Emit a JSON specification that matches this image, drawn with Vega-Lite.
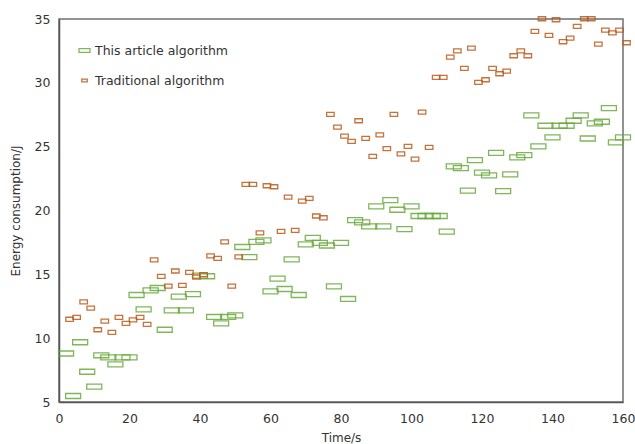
{
  "$schema": "https://vega.github.io/schema/vega-lite/v6.json",
  "width": 564,
  "height": 383,
  "autosize": "none",
  "padding": {"left": 59, "top": 19, "right": 12, "bottom": 42},
  "background": "white",
  "config": {
    "view": {"stroke": "#6f6f6f", "strokeWidth": 1.5},
    "font": "DejaVu Sans",
    "axis": {
      "grid": false,
      "ticks": false,
      "domainColor": "#555555",
      "domainWidth": 1.5,
      "labelFont": "DejaVu Sans",
      "labelFontSize": 12.5,
      "labelColor": "#333333",
      "titleFont": "DejaVu Sans",
      "titleFontSize": 12,
      "titleFontWeight": "normal",
      "titleColor": "#333333"
    }
  },
  "datasets": {
    "pts": [
      {"t": 2, "e": 8.8, "series": "This article algorithm"},
      {"t": 4, "e": 5.47, "series": "This article algorithm"},
      {"t": 6, "e": 9.68, "series": "This article algorithm"},
      {"t": 8, "e": 7.37, "series": "This article algorithm"},
      {"t": 10, "e": 6.2, "series": "This article algorithm"},
      {"t": 12, "e": 8.66, "series": "This article algorithm"},
      {"t": 14, "e": 8.5, "series": "This article algorithm"},
      {"t": 16, "e": 7.95, "series": "This article algorithm"},
      {"t": 18, "e": 8.5, "series": "This article algorithm"},
      {"t": 20, "e": 8.5, "series": "This article algorithm"},
      {"t": 22, "e": 13.38, "series": "This article algorithm"},
      {"t": 24, "e": 12.26, "series": "This article algorithm"},
      {"t": 26, "e": 13.75, "series": "This article algorithm"},
      {"t": 28, "e": 13.93, "series": "This article algorithm"},
      {"t": 30, "e": 10.66, "series": "This article algorithm"},
      {"t": 32, "e": 12.18, "series": "This article algorithm"},
      {"t": 34, "e": 13.25, "series": "This article algorithm"},
      {"t": 36, "e": 12.18, "series": "This article algorithm"},
      {"t": 38, "e": 13.45, "series": "This article algorithm"},
      {"t": 40, "e": 14.9, "series": "This article algorithm"},
      {"t": 42, "e": 14.85, "series": "This article algorithm"},
      {"t": 44, "e": 11.66, "series": "This article algorithm"},
      {"t": 46, "e": 11.16, "series": "This article algorithm"},
      {"t": 48, "e": 11.66, "series": "This article algorithm"},
      {"t": 50, "e": 11.79, "series": "This article algorithm"},
      {"t": 52, "e": 17.14, "series": "This article algorithm"},
      {"t": 54, "e": 16.35, "series": "This article algorithm"},
      {"t": 56, "e": 17.55, "series": "This article algorithm"},
      {"t": 58, "e": 17.66, "series": "This article algorithm"},
      {"t": 60, "e": 13.67, "series": "This article algorithm"},
      {"t": 62, "e": 14.66, "series": "This article algorithm"},
      {"t": 64, "e": 13.85, "series": "This article algorithm"},
      {"t": 66, "e": 16.17, "series": "This article algorithm"},
      {"t": 68, "e": 13.38, "series": "This article algorithm"},
      {"t": 70, "e": 17.35, "series": "This article algorithm"},
      {"t": 72, "e": 17.85, "series": "This article algorithm"},
      {"t": 74, "e": 17.46, "series": "This article algorithm"},
      {"t": 76, "e": 17.26, "series": "This article algorithm"},
      {"t": 78, "e": 14.06, "series": "This article algorithm"},
      {"t": 80, "e": 17.46, "series": "This article algorithm"},
      {"t": 82, "e": 13.07, "series": "This article algorithm"},
      {"t": 84, "e": 19.25, "series": "This article algorithm"},
      {"t": 86, "e": 19.07, "series": "This article algorithm"},
      {"t": 88, "e": 18.76, "series": "This article algorithm"},
      {"t": 90, "e": 20.32, "series": "This article algorithm"},
      {"t": 92, "e": 18.76, "series": "This article algorithm"},
      {"t": 94, "e": 20.82, "series": "This article algorithm"},
      {"t": 96, "e": 20.06, "series": "This article algorithm"},
      {"t": 98, "e": 18.54, "series": "This article algorithm"},
      {"t": 100, "e": 20.32, "series": "This article algorithm"},
      {"t": 102, "e": 19.57, "series": "This article algorithm"},
      {"t": 104, "e": 19.57, "series": "This article algorithm"},
      {"t": 106, "e": 19.57, "series": "This article algorithm"},
      {"t": 108, "e": 19.57, "series": "This article algorithm"},
      {"t": 110, "e": 18.34, "series": "This article algorithm"},
      {"t": 112, "e": 23.45, "series": "This article algorithm"},
      {"t": 114, "e": 23.32, "series": "This article algorithm"},
      {"t": 116, "e": 21.55, "series": "This article algorithm"},
      {"t": 118, "e": 23.95, "series": "This article algorithm"},
      {"t": 120, "e": 22.96, "series": "This article algorithm"},
      {"t": 122, "e": 22.75, "series": "This article algorithm"},
      {"t": 124, "e": 24.52, "series": "This article algorithm"},
      {"t": 126, "e": 21.52, "series": "This article algorithm"},
      {"t": 128, "e": 22.83, "series": "This article algorithm"},
      {"t": 130, "e": 24.16, "series": "This article algorithm"},
      {"t": 132, "e": 24.34, "series": "This article algorithm"},
      {"t": 134, "e": 27.45, "series": "This article algorithm"},
      {"t": 136, "e": 25.02, "series": "This article algorithm"},
      {"t": 138, "e": 26.64, "series": "This article algorithm"},
      {"t": 140, "e": 25.73, "series": "This article algorithm"},
      {"t": 142, "e": 26.64, "series": "This article algorithm"},
      {"t": 144, "e": 26.64, "series": "This article algorithm"},
      {"t": 146, "e": 27.03, "series": "This article algorithm"},
      {"t": 148, "e": 27.45, "series": "This article algorithm"},
      {"t": 150, "e": 25.64, "series": "This article algorithm"},
      {"t": 152, "e": 26.82, "series": "This article algorithm"},
      {"t": 154, "e": 26.95, "series": "This article algorithm"},
      {"t": 156, "e": 28.02, "series": "This article algorithm"},
      {"t": 158, "e": 25.34, "series": "This article algorithm"},
      {"t": 160, "e": 25.73, "series": "This article algorithm"},
      {"t": 3, "e": 11.48, "series": "Traditional algorithm"},
      {"t": 5, "e": 11.63, "series": "Traditional algorithm"},
      {"t": 7, "e": 12.85, "series": "Traditional algorithm"},
      {"t": 9, "e": 12.36, "series": "Traditional algorithm"},
      {"t": 11, "e": 10.66, "series": "Traditional algorithm"},
      {"t": 13, "e": 11.34, "series": "Traditional algorithm"},
      {"t": 15, "e": 10.46, "series": "Traditional algorithm"},
      {"t": 17, "e": 11.63, "series": "Traditional algorithm"},
      {"t": 19, "e": 11.16, "series": "Traditional algorithm"},
      {"t": 21, "e": 11.44, "series": "Traditional algorithm"},
      {"t": 23, "e": 11.63, "series": "Traditional algorithm"},
      {"t": 25, "e": 11.08, "series": "Traditional algorithm"},
      {"t": 27, "e": 16.14, "series": "Traditional algorithm"},
      {"t": 29, "e": 14.84, "series": "Traditional algorithm"},
      {"t": 31, "e": 14.08, "series": "Traditional algorithm"},
      {"t": 33, "e": 15.26, "series": "Traditional algorithm"},
      {"t": 35, "e": 14.14, "series": "Traditional algorithm"},
      {"t": 37, "e": 15.16, "series": "Traditional algorithm"},
      {"t": 39, "e": 14.79, "series": "Traditional algorithm"},
      {"t": 41, "e": 14.98, "series": "Traditional algorithm"},
      {"t": 43, "e": 16.45, "series": "Traditional algorithm"},
      {"t": 45, "e": 16.25, "series": "Traditional algorithm"},
      {"t": 47, "e": 17.55, "series": "Traditional algorithm"},
      {"t": 49, "e": 14.07, "series": "Traditional algorithm"},
      {"t": 51, "e": 16.36, "series": "Traditional algorithm"},
      {"t": 53, "e": 22.05, "series": "Traditional algorithm"},
      {"t": 55, "e": 22.05, "series": "Traditional algorithm"},
      {"t": 57, "e": 18.24, "series": "Traditional algorithm"},
      {"t": 59, "e": 21.94, "series": "Traditional algorithm"},
      {"t": 61, "e": 21.86, "series": "Traditional algorithm"},
      {"t": 63, "e": 18.36, "series": "Traditional algorithm"},
      {"t": 65, "e": 21.05, "series": "Traditional algorithm"},
      {"t": 67, "e": 18.45, "series": "Traditional algorithm"},
      {"t": 69, "e": 20.74, "series": "Traditional algorithm"},
      {"t": 71, "e": 20.95, "series": "Traditional algorithm"},
      {"t": 73, "e": 19.57, "series": "Traditional algorithm"},
      {"t": 75, "e": 19.43, "series": "Traditional algorithm"},
      {"t": 77, "e": 27.53, "series": "Traditional algorithm"},
      {"t": 79, "e": 26.53, "series": "Traditional algorithm"},
      {"t": 81, "e": 25.83, "series": "Traditional algorithm"},
      {"t": 83, "e": 25.41, "series": "Traditional algorithm"},
      {"t": 85, "e": 27.03, "series": "Traditional algorithm"},
      {"t": 87, "e": 25.65, "series": "Traditional algorithm"},
      {"t": 89, "e": 24.24, "series": "Traditional algorithm"},
      {"t": 91, "e": 25.93, "series": "Traditional algorithm"},
      {"t": 93, "e": 24.84, "series": "Traditional algorithm"},
      {"t": 95, "e": 27.53, "series": "Traditional algorithm"},
      {"t": 97, "e": 24.44, "series": "Traditional algorithm"},
      {"t": 99, "e": 25.02, "series": "Traditional algorithm"},
      {"t": 101, "e": 24.03, "series": "Traditional algorithm"},
      {"t": 103, "e": 27.71, "series": "Traditional algorithm"},
      {"t": 105, "e": 24.94, "series": "Traditional algorithm"},
      {"t": 107, "e": 30.42, "series": "Traditional algorithm"},
      {"t": 109, "e": 30.42, "series": "Traditional algorithm"},
      {"t": 111, "e": 32.02, "series": "Traditional algorithm"},
      {"t": 113, "e": 32.51, "series": "Traditional algorithm"},
      {"t": 115, "e": 31.13, "series": "Traditional algorithm"},
      {"t": 117, "e": 32.72, "series": "Traditional algorithm"},
      {"t": 119, "e": 30.04, "series": "Traditional algorithm"},
      {"t": 121, "e": 30.24, "series": "Traditional algorithm"},
      {"t": 123, "e": 31.13, "series": "Traditional algorithm"},
      {"t": 125, "e": 30.71, "series": "Traditional algorithm"},
      {"t": 127, "e": 30.92, "series": "Traditional algorithm"},
      {"t": 129, "e": 32.12, "series": "Traditional algorithm"},
      {"t": 131, "e": 32.51, "series": "Traditional algorithm"},
      {"t": 133, "e": 32.12, "series": "Traditional algorithm"},
      {"t": 135, "e": 34.03, "series": "Traditional algorithm"},
      {"t": 137, "e": 35.02, "series": "Traditional algorithm"},
      {"t": 139, "e": 33.71, "series": "Traditional algorithm"},
      {"t": 141, "e": 34.94, "series": "Traditional algorithm"},
      {"t": 143, "e": 33.22, "series": "Traditional algorithm"},
      {"t": 145, "e": 33.5, "series": "Traditional algorithm"},
      {"t": 147, "e": 34.42, "series": "Traditional algorithm"},
      {"t": 149, "e": 35.02, "series": "Traditional algorithm"},
      {"t": 151, "e": 35.02, "series": "Traditional algorithm"},
      {"t": 153, "e": 33.03, "series": "Traditional algorithm"},
      {"t": 155, "e": 34.13, "series": "Traditional algorithm"},
      {"t": 157, "e": 33.92, "series": "Traditional algorithm"},
      {"t": 159, "e": 34.13, "series": "Traditional algorithm"},
      {"t": 161, "e": 33.14, "series": "Traditional algorithm"}
    ]
  },
  "data": {"name": "pts"},
  "mark": {"type": "point", "filled": false, "size": 225, "strokeWidth": 1.3, "opacity": 0.85, "clip": false},
  "encoding": {
    "x": {
      "field": "t", "type": "quantitative",
      "scale": {"domain": [0, 160], "nice": false, "zero": false},
      "axis": {"values": [0, 20, 40, 60, 80, 100, 120, 140, 160], "title": "Time/s", "labelPadding": 10, "titlePadding": 8, "labelFlush": false}
    },
    "y": {
      "field": "e", "type": "quantitative",
      "scale": {"domain": [5, 35], "nice": false, "zero": false},
      "axis": {"values": [5, 10, 15, 20, 25, 30, 35], "title": "Energy consumption/J", "labelPadding": 9, "titlePadding": 12, "labelFlush": false}
    },
    "color": {
      "field": "series", "type": "nominal",
      "scale": {"domain": ["This article algorithm", "Traditional algorithm"], "range": ["#6aaa3c", "#bd5a1a"]},
      "legend": {
        "title": null, "orient": "none", "legendX": 19, "legendY": 25,
        "padding": 0, "rowPadding": 17, "symbolSize": 121, "symbolStrokeWidth": 1.3,
        "labelFont": "DejaVu Sans", "labelFontSize": 12.5, "labelColor": "#333333", "labelOffset": 4
      }
    },
    "shape": {
      "field": "series", "type": "nominal",
      "scale": {"domain": ["This article algorithm", "Traditional algorithm"], "range": ["M-1,-0.333H1V0.333H-1Z", "M-0.5,-0.267H0.5V0.267H-0.5Z"]},
      "legend": null
    }
  }
}
